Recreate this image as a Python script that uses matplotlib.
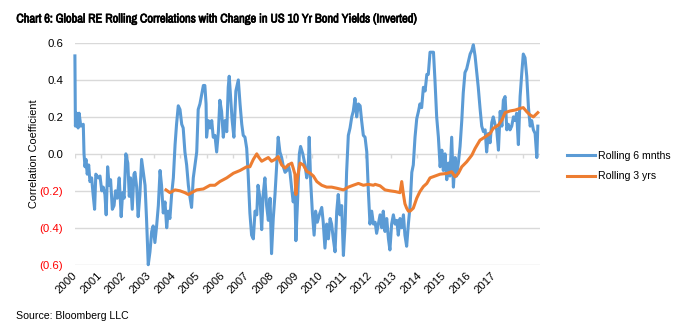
import numpy as np
import matplotlib
matplotlib.use('Agg')
import matplotlib.pyplot as plt
import matplotlib.transforms as mtransforms
import matplotlib.patheffects as pe
from matplotlib import font_manager

plt.rcParams['font.family'] = ['Liberation Sans', 'DejaVu Sans']

# rolling 6 month correlation
t6 = [2000.00, 2000.02, 2000.07, 2000.13, 2000.17, 2000.24, 2000.34, 2000.37, 2000.41, 2000.45,
      2000.50, 2000.56, 2000.61, 2000.68, 2000.74, 2000.80, 2000.85, 2000.95, 2001.02, 2001.09,
      2001.15, 2001.22, 2001.27, 2001.33, 2001.39, 2001.45, 2001.52, 2001.59, 2001.65, 2001.72,
      2001.80, 2001.88, 2001.94, 2002.00, 2002.07, 2002.15, 2002.21, 2002.26, 2002.33, 2002.40,
      2002.44, 2002.51, 2002.57, 2002.64, 2002.71, 2002.78, 2002.85, 2002.91, 2002.98, 2003.05,
      2003.12, 2003.18, 2003.25, 2003.32, 2003.39, 2003.46, 2003.52, 2003.59, 2003.66, 2003.73,
      2003.79, 2003.86, 2003.93, 2004.00, 2004.07, 2004.13, 2004.20, 2004.27, 2004.34, 2004.40,
      2004.47, 2004.54, 2004.61, 2004.67, 2004.74, 2004.81, 2004.88, 2004.95, 2005.01, 2005.08,
      2005.15, 2005.22, 2005.28, 2005.33, 2005.35, 2005.42, 2005.49, 2005.56, 2005.62, 2005.69,
      2005.76, 2005.83, 2005.89, 2005.96, 2006.03, 2006.10, 2006.17, 2006.23, 2006.27, 2006.33,
      2006.39, 2006.46, 2006.54, 2006.64, 2006.71, 2006.78, 2006.84, 2006.91, 2006.98, 2007.04,
      2007.11, 2007.18, 2007.25, 2007.32, 2007.39, 2007.44, 2007.52, 2007.59, 2007.65, 2007.72,
      2007.79, 2007.86, 2007.93, 2007.99, 2008.06, 2008.13, 2008.20, 2008.26, 2008.33, 2008.40,
      2008.47, 2008.54, 2008.61, 2008.67, 2008.74, 2008.81, 2008.87, 2008.94, 2008.98, 2009.04,
      2009.12, 2009.17, 2009.26, 2009.35, 2009.42, 2009.48, 2009.52, 2009.58, 2009.65, 2009.72,
      2009.78, 2009.85, 2009.93, 2010.03, 2010.09, 2010.16, 2010.23, 2010.30, 2010.37, 2010.43,
      2010.50, 2010.57, 2010.64, 2010.70, 2010.77, 2010.84, 2010.91, 2010.98, 2011.04, 2011.11,
      2011.18, 2011.25, 2011.31, 2011.38, 2011.45, 2011.52, 2011.59, 2011.65, 2011.72, 2011.79,
      2011.86, 2011.92, 2011.99, 2012.06, 2012.13, 2012.20, 2012.26, 2012.33, 2012.40, 2012.47,
      2012.53, 2012.60, 2012.67, 2012.74, 2012.80, 2012.87, 2012.94, 2013.01, 2013.08, 2013.14,
      2013.21, 2013.28, 2013.35, 2013.41, 2013.48, 2013.55, 2013.62, 2013.69, 2013.75, 2013.82,
      2013.89, 2013.96, 2014.02, 2014.09, 2014.16, 2014.23, 2014.30, 2014.36, 2014.43, 2014.50,
      2014.57, 2014.63, 2014.70, 2014.77, 2014.84, 2014.91, 2014.97, 2015.04, 2015.11, 2015.18,
      2015.24, 2015.31, 2015.38, 2015.45, 2015.51, 2015.58, 2015.65, 2015.72, 2015.78, 2015.85,
      2015.92, 2015.99, 2016.06, 2016.13, 2016.19, 2016.26, 2016.33, 2016.39, 2016.46, 2016.53,
      2016.60, 2016.67, 2016.73, 2016.80, 2016.87, 2016.94, 2017.00, 2017.07, 2017.14, 2017.21,
      2017.28, 2017.35, 2017.41, 2017.48, 2017.55, 2017.61, 2017.68, 2017.75, 2017.82, 2017.89,
      2017.95, 2018.02, 2018.09, 2018.16, 2018.22, 2018.29, 2018.36, 2018.43, 2018.50, 2018.56,
      2018.63, 2018.70, 2018.77, 2018.81]
r6 = [0.53, 0.15, 0.22, 0.14, 0.22, 0.15, 0.16, 0.00, -0.07, -0.03,
      -0.11, -0.06, -0.15, -0.13, -0.22, -0.30, -0.11, -0.13, -0.12, -0.20,
      -0.18, -0.22, -0.33, -0.07, -0.17, -0.14, -0.30, -0.28, -0.20, -0.24,
      -0.13, -0.34, -0.21, -0.24, 0.00, -0.05, -0.23, -0.13, -0.30, -0.11,
      -0.10, -0.18, -0.34, -0.22, -0.03, -0.10, -0.17, -0.35, -0.60, -0.53,
      -0.42, -0.39, -0.48, -0.39, -0.28, -0.09, -0.17, -0.32, -0.26, -0.40,
      -0.31, -0.35, -0.22, -0.13, 0.05, 0.16, 0.26, 0.24, 0.16, 0.14,
      0.01, -0.06, -0.17, -0.23, -0.29, -0.13, -0.06, 0.01, 0.24, 0.27,
      0.32, 0.37, 0.37, 0.27, 0.09, 0.18, 0.14, 0.18, 0.09, 0.10,
      0.01, 0.12, 0.29, 0.23, 0.09, 0.18, 0.12, 0.36, 0.42, 0.30,
      0.18, 0.09, 0.34, 0.40, 0.27, 0.16, 0.10, 0.09, 0.03, -0.11,
      -0.32, -0.44, -0.46, -0.31, -0.33, -0.17, -0.24, -0.41, -0.22, -0.13,
      -0.28, -0.36, -0.24, -0.54, -0.35, -0.22, -0.06, 0.09, 0.01, -0.02,
      -0.07, -0.10, -0.09, -0.06, -0.10, -0.19, -0.26, -0.21, -0.47, -0.28,
      0.00, 0.04, 0.00, -0.06, -0.13, -0.09, 0.09, -0.15, -0.32, -0.44,
      -0.31, -0.37, -0.33, -0.29, -0.37, -0.51, -0.38, -0.46, -0.35, -0.38,
      -0.46, -0.53, -0.31, -0.22, -0.33, -0.28, -0.55, -0.38, -0.10, 0.10,
      0.14, 0.20, 0.23, 0.30, 0.20, 0.27, 0.26, 0.18, 0.10, 0.09,
      0.01, -0.19, -0.38, -0.31, -0.38, -0.37, -0.43, -0.38, -0.33, -0.40,
      -0.31, -0.42, -0.35, -0.46, -0.52, -0.38, -0.33, -0.38, -0.36, -0.44,
      -0.35, -0.40, -0.33, -0.44, -0.50, -0.38, -0.28, -0.10, -0.06, 0.09,
      0.19, 0.23, 0.27, 0.25, 0.36, 0.34, 0.43, 0.43, 0.55, 0.55,
      0.55, 0.40, 0.20, 0.09, -0.07, 0.02, -0.09, 0.00, -0.14, -0.05,
      -0.12, 0.09, -0.18, -0.02, -0.12, -0.05, 0.04, 0.18, 0.33, 0.44,
      0.46, 0.50, 0.54, 0.56, 0.59, 0.53, 0.44, 0.36, 0.25, 0.15,
      0.12, 0.13, 0.01, 0.11, 0.06, 0.17, 0.20, 0.16, 0.13, 0.02,
      0.23, 0.15, 0.29, 0.31, 0.13, 0.16, 0.13, 0.15, 0.20, 0.18,
      0.22, 0.05, 0.31, 0.44, 0.54, 0.52, 0.42, 0.25, 0.15, 0.18,
      0.13, 0.11, -0.02, 0.15]

# rolling 3 year correlation
t3 = [2003.70, 2003.86, 2004.07, 2004.27, 2004.47, 2004.61, 2004.74, 2004.95, 2005.22, 2005.49,
      2005.69, 2005.89, 2006.17, 2006.44, 2006.71, 2006.98, 2007.11, 2007.25, 2007.39, 2007.45,
      2007.59, 2007.72, 2007.86, 2007.99, 2008.13, 2008.26, 2008.40, 2008.54, 2008.67, 2008.81,
      2008.87, 2008.94, 2008.98, 2009.04, 2009.15, 2009.28, 2009.42, 2009.55, 2009.69, 2009.83,
      2010.03, 2010.23, 2010.43, 2010.64, 2010.91, 2011.11, 2011.31, 2011.52, 2011.72, 2011.92,
      2012.13, 2012.20, 2012.40, 2012.60, 2012.80, 2013.01, 2013.21, 2013.28, 2013.35, 2013.41,
      2013.48, 2013.55, 2013.62, 2013.75, 2013.89, 2014.02, 2014.16, 2014.30, 2014.43, 2014.84,
      2015.11, 2015.31, 2015.45, 2015.58, 2015.72, 2015.92, 2016.13, 2016.26, 2016.46, 2016.67,
      2016.87, 2017.00, 2017.21, 2017.35, 2017.48, 2017.68, 2017.89, 2018.09, 2018.22, 2018.36,
      2018.50, 2018.63, 2018.81]
r3 = [-0.195, -0.21, -0.195, -0.20, -0.21, -0.22, -0.21, -0.195, -0.19, -0.17,
      -0.17, -0.15, -0.13, -0.105, -0.09, -0.07, -0.07, -0.03, 0.00, -0.015,
      -0.04, -0.03, -0.02, -0.04, -0.03, -0.015, -0.06, -0.077, -0.06, -0.05,
      -0.077, -0.11, -0.22, -0.13, -0.05, -0.06, -0.095, -0.104, -0.12, -0.15,
      -0.17, -0.18, -0.18, -0.186, -0.195, -0.18, -0.17, -0.16, -0.17, -0.165,
      -0.17, -0.165, -0.173, -0.195, -0.20, -0.204, -0.21, -0.15, -0.22, -0.27,
      -0.294, -0.31, -0.31, -0.294, -0.24, -0.204, -0.177, -0.16, -0.13, -0.11,
      -0.106, -0.097, -0.124, -0.106, -0.07, -0.043, -0.007, 0.029, 0.074, 0.092,
      0.11, 0.138, 0.156, 0.183, 0.223, 0.232, 0.237, 0.246, 0.25, 0.228,
      0.21, 0.20, 0.223]

years = list(range(2000, 2018))
yticks = [-0.6, -0.4, -0.2, 0.0, 0.2, 0.4, 0.6]
ylabels = ['(0.6)', '(0.4)', '(0.2)', '0.0', '0.2', '0.4', '0.6']

fig = plt.figure(figsize=(6.81, 3.33), dpi=100)
ax = fig.add_axes([0.110, 0.205, 0.683, 0.666])

ax.plot(t6, r6, color='#5B9BD5', lw=2.2, label='Rolling 6 mnths', clip_on=False, zorder=3)
ax.plot(t3, r3, color='#ED7D31', lw=2.2, label='Rolling 3 yrs', clip_on=False, zorder=4)

ax.set_xlim(2000, 2018.9)
ax.set_ylim(-0.6, 0.6)
for s in ax.spines.values():
    s.set_visible(False)
ax.set_yticks(yticks)
ax.set_yticklabels(ylabels)
for lab, v in zip(ax.get_yticklabels(), yticks):
    if v < 0:
        lab.set_color('red')
ax.tick_params(axis='y', length=0, labelsize=8.2, pad=8.5)
ax.grid(axis='y', color='#D9D9D9', lw=1)
ax.set_axisbelow(True)

ax.set_xticks(years)
ax.set_xticklabels([str(y) for y in years], rotation=45, ha='right', rotation_mode='anchor')
ax.tick_params(axis='x', length=0, labelsize=8.2, pad=4)
shift = mtransforms.ScaledTranslation(-3 / 100, 0, fig.dpi_scale_trans)
for lab in ax.get_xticklabels():
    lab.set_transform(lab.get_transform() + shift)
# small tick marks on the zero line
ax.vlines(2000 + np.arange(18) * 1.07, -0.022, 0, color='#D9D9D9', lw=1, zorder=1)

ax.set_ylabel('Correlation Coefficient', fontsize=7.8, va='center')
ax.yaxis.set_label_coords(-0.088, 0.5)

ax.legend(loc='upper left', bbox_to_anchor=(0.833, 0.547), bbox_transform=fig.transFigure,
          frameon=False, fontsize=7.6, handlelength=2.6, handletextpad=0.3, labelspacing=1.0,
          borderaxespad=0, borderpad=0)

# condensed face for the title if one is installed
title_font = 'Liberation Sans'
for f in font_manager.fontManager.ttflist:
    if 'Narrow' in f.name or 'Condensed' in f.name:
        title_font = f.name
        break
fig.text(0.024, 0.943, 'Chart 6: Global RE Rolling Correlations with Change in US 10 Yr Bond Yields (Inverted)',
         fontsize=9.0, fontweight='bold', family=[title_font, 'Liberation Sans'],
         fontstretch='condensed', va='center',
         path_effects=[pe.withStroke(linewidth=0.5, foreground='black')])
fig.text(0.024, 0.05, 'Source: Bloomberg LLC', fontsize=7.6, va='center')

fig.savefig('out.png', dpi=100)
